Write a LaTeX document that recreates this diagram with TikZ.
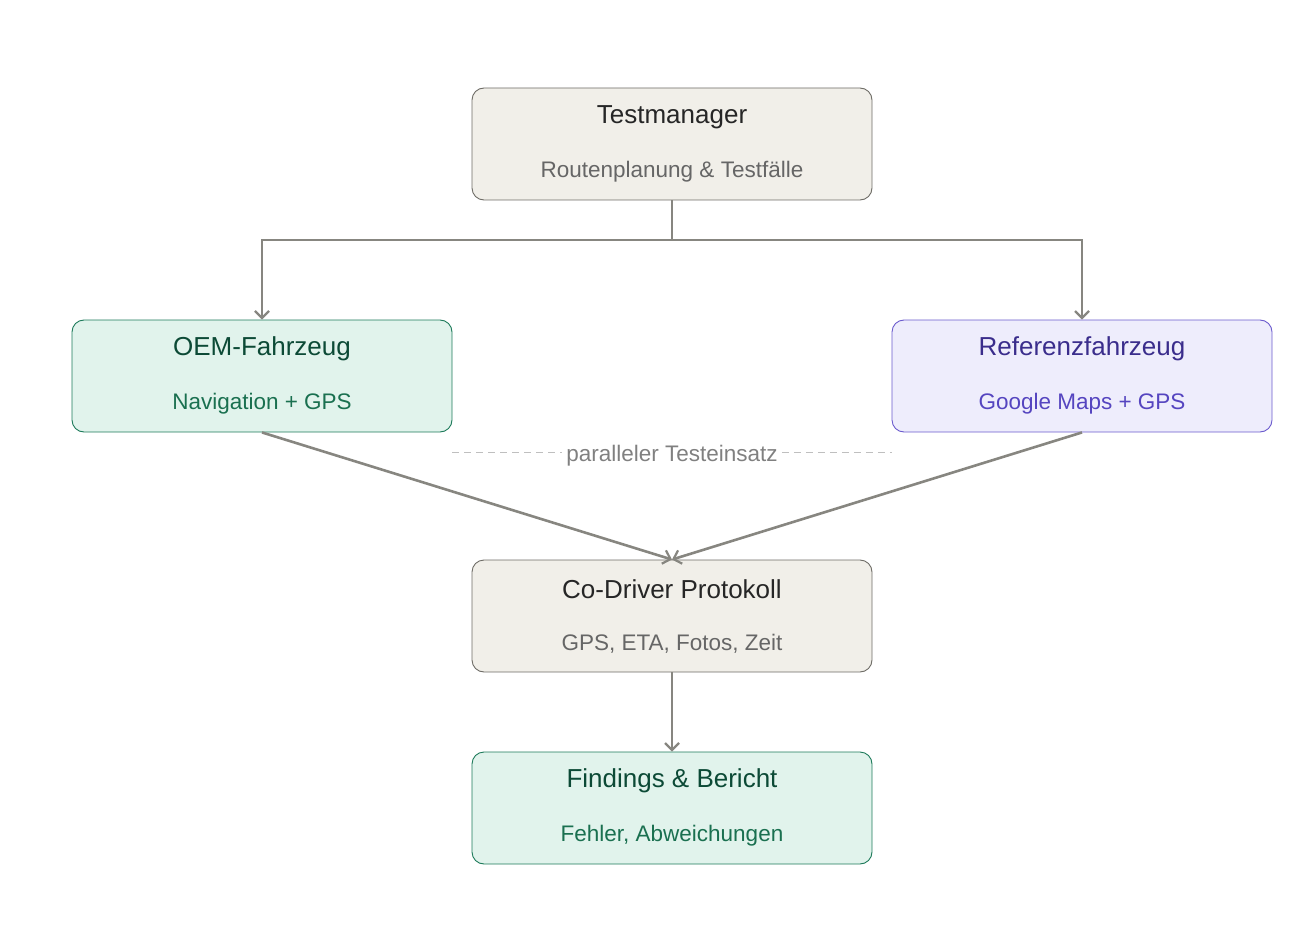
\documentclass[tikz,border=0pt]{standalone}
\usepackage{fontspec}
\setmainfont{Liberation Sans}
\usetikzlibrary{arrows.meta}
\definecolor{bfill}{HTML}{F1EFE9}\definecolor{bdraw}{HTML}{6E6C66}
\definecolor{gfill}{HTML}{E1F3EC}\definecolor{gdraw}{HTML}{1D7A5A}
\definecolor{gtit}{HTML}{0C4A36}\definecolor{gsub}{HTML}{1A7050}
\definecolor{pfill}{HTML}{EEEDFC}\definecolor{pdraw}{HTML}{6A5ACD}
\definecolor{ptit}{HTML}{3A2D8C}\definecolor{psub}{HTML}{5545C0}
\definecolor{arr}{HTML}{878680}
\begin{document}
\begin{tikzpicture}[x=1pt,y=-1pt,
 box/.style={draw,rounded corners=12pt,line width=0.9pt,minimum width=400pt,minimum height=112pt,inner sep=0pt},
 tit/.style={font=\fontsize{26}{30}\selectfont},
 sub/.style={font=\fontsize{22.5}{26}\selectfont},
 ar/.style={draw=arr,line width=2.6pt,-{Straight Barb[length=7pt,width=14pt,line width=2.2pt]}}]
\useasboundingbox (0,0) rectangle (1294,944);
\node[box,fill=bfill,draw=bdraw] (tm) at (672,144) {};
\node[tit,text=black!85] (tmt) at (672,117) {Testmanager};
\node[sub,text=black!60] (tms) at (672,172) {Routenplanung \& Testfälle};
\node[box,fill=gfill,draw=gdraw,minimum width=380pt] (oem) at (262,376) {};
\node[tit,text=gtit] (oemt) at (262,349) {OEM-Fahrzeug};
\node[sub,text=gsub] (oems) at (262,404) {Navigation + GPS};
\node[box,fill=pfill,draw=pdraw,minimum width=380pt] (ref) at (1082,376) {};
\node[tit,text=ptit] (reft) at (1082,349) {Referenzfahrzeug};
\node[sub,text=psub] (refs) at (1082,404) {Google Maps + GPS};
\node[box,fill=bfill,draw=bdraw] (cd) at (672,616) {};
\node[tit,text=black!85] (cdt) at (672,589) {Co-Driver Protokoll};
\node[sub,text=black!60] (cds) at (672,644) {GPS, ETA, Fotos, Zeit};
\node[box,fill=gfill,draw=gdraw] (fb) at (672,808) {};
\node[tit,text=gtit] (fbt) at (672,781) {Findings \& Bericht};
\node[sub,text=gsub] (fbs) at (672,836) {Fehler, Abweichungen};
\node[sub,text=black!50,inner sep=4pt] (par) at (672,456) {paralleler Testeinsatz};
\draw[black!25,line width=1pt,dash pattern=on 7pt off 5pt] (oem.east|-0,452) -- (par.west|-0,452);
\draw[black!25,line width=1pt,dash pattern=on 7pt off 5pt] (par.east|-0,452) -- (ref.west|-0,452);
\coordinate (j) at (672,240);
\draw[draw=arr,line width=2.6pt] (tm.south) -- (j);
\draw[ar] (j) -| (oem.north);
\draw[ar] (j) -| (ref.north);
\draw[ar] (oem.south) -- (cd.north);
\draw[ar] (ref.south) -- (cd.north);
\draw[ar] (cd.south) -- (fb.north);
\end{tikzpicture}
\end{document}
